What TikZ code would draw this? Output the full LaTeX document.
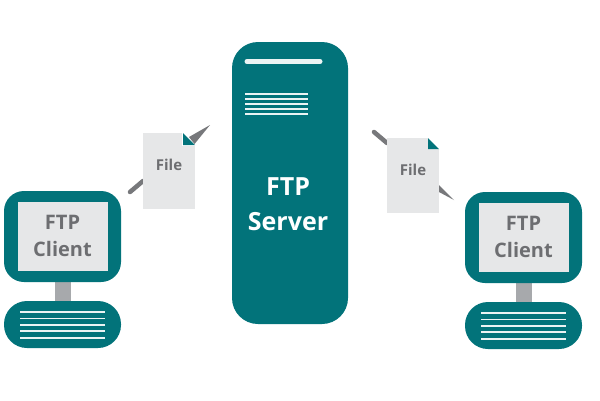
\documentclass[tikz,border=0pt]{standalone}
\usepackage{fontspec}
\setmainfont{Open Sans}
\definecolor{teal1}{HTML}{02737A}
\definecolor{paper}{HTML}{E6E7E8}
\definecolor{ink}{HTML}{6D6E71}
\definecolor{neck}{HTML}{A7A9AC}
\definecolor{wedge}{HTML}{77787B}
\tikzset{
  label text/.style={font=\bfseries\fontsize{20}{27}\selectfont,text=ink,align=center,inner sep=0pt},
  file text/.style={font=\bfseries\fontsize{15}{17}\selectfont,text=ink,inner sep=0pt},
  server text/.style={font=\bfseries\fontsize{25}{35}\selectfont,text=white,align=center,inner sep=0pt},
  wire/.style={draw=wedge,line width=4.5pt,line cap=round},
  stripe/.style={draw=white!92!teal1,line width=1.3pt}
}
\newcommand{\clientpc}[3]{%
  \begin{scope}[shift={(#1,#2)}]
    \fill[neck] (51,91) rectangle (67,112);
    \fill[teal1,rounded corners=20pt] (0,0) rectangle (117,91);
    \fill[paper] (14,11) rectangle (104,80);
    \node[label text] (#3) at (58.5,45) {FTP\\Client};
    \fill[teal1,rounded corners=23pt] (0,110) rectangle (117,157);
    \foreach \y in {121,127.5,134,140,147} \draw[stripe] (16,\y) -- (101,\y);
  \end{scope}}
\begin{document}
\begin{tikzpicture}[x=1pt,y=-1pt]
\useasboundingbox (0,0) rectangle (600,400);
\fill[white] (0,0) rectangle (600,400);
% server
\fill[teal1,rounded corners=26pt] (232,42) rectangle (348,324);
\draw[white!92!teal1,line width=5pt,line cap=round] (247,61.5) -- (320,61.5);
\foreach \y in {94,99,104,109,114} \draw[stripe] (245,\y) -- (308,\y);
\node[server text] (server) at (288,204.5) {FTP\\Server};
% clients
\clientpc{4}{191}{clientL}
\clientpc{465}{192}{clientR}
% left file
\draw[wire] (130,192) -- (143,181);
\fill[paper] (143,133) rectangle (195,209);
\fill[white] (182,133) rectangle (195,146);
\fill[teal1] (183,133) -- (183,145) -- (195,145) -- cycle;
\fill[wedge] (210,125) -- (189,137) -- (194.5,144) -- cycle;
\node[file text] (fileL) at (169,165) {File};
% right file
\draw[wire] (374,132) -- (387,143);
\fill[paper] (387,138) rectangle (439,213);
\fill[white] (428,138) rectangle (439,149);
\fill[teal1] (428,138) -- (428,149) -- (439,149) -- cycle;
\fill[wedge] (454,200) -- (439,185) -- (439,192) -- cycle;
\node[file text] (fileR) at (413,170) {File};
\end{tikzpicture}
\end{document}
